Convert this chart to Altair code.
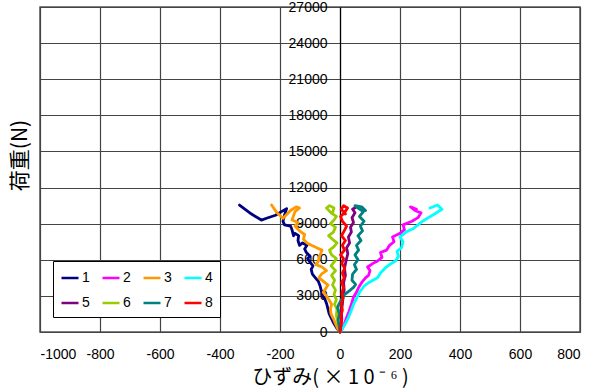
import altair as alt
import pandas as pd

series_names = ["1", "2", "3", "4", "5", "6", "7", "8"]
series_colors = ["#000080", "#ff00ff", "#ff9900", "#00ffff", "#800080", "#99cc00", "#008080", "#ff0000"]

x_ticks = [-1000, -800, -600, -400, -200, 0, 200, 400, 600, 800]
y_ticks = [0, 3000, 6000, 9000, 12000, 15000, 18000, 21000, 24000, 27000]

s1_strain = [0, -10, -20, -28, -36, -40, -44, -50, -58, -62, -66, -72, -82, -92, -96, -90, -100, -108, -100, -112, -118, -110, -125, -135, -140, -138, -150, -155, -160, -165, -185, -190, -185, -178, -195, -215, -245, -262, -295, -335]
s1_load = [0, 300, 700, 1100, 1500, 1900, 2300, 2700, 3000, 3400, 3800, 4200, 4500, 4800, 5200, 5500, 5800, 6100, 6300, 6600, 6900, 7200, 7400, 7200, 7600, 8000, 8200, 8000, 8500, 8800, 8900, 9200, 9700, 10250, 10000, 9700, 9450, 9300, 9800, 10550]

s2_strain = [0, 8, 15, 22, 30, 38, 45, 55, 62, 72, 85, 95, 100, 92, 110, 125, 140, 135, 155, 165, 180, 175, 200, 215, 210, 240, 260, 270, 250, 235, 255]
s2_load = [0, 300, 700, 1200, 1700, 2300, 2900, 3300, 3700, 4100, 4500, 4700, 5100, 5400, 5700, 5900, 6200, 6600, 6800, 7200, 7500, 7900, 8200, 8500, 8900, 9200, 9500, 9900, 10100, 10400, 10200]

s3_strain = [0, -8, -15, -22, -30, -32, -28, -35, -45, -56, -48, -40, -55, -70, -62, -45, -60, -80, -72, -68, -60, -78, -95, -110, -122, -118, -135, -150, -140, -160, -150, -135, -145, -165, -190, -210, -228]
s3_load = [0, 300, 700, 1100, 1500, 1900, 2300, 2600, 3000, 3300, 3600, 3900, 4200, 4500, 4800, 5100, 5400, 5600, 5900, 6300, 6800, 7000, 7200, 7400, 7700, 8100, 8400, 8800, 9100, 9300, 10000, 10300, 10400, 10100, 9450, 9900, 10550]

s4_strain = [0, 8, 18, 28, 38, 45, 55, 65, 80, 95, 110, 125, 135, 150, 165, 185, 195, 190, 205, 210, 200, 220, 245, 260, 275, 295, 315, 340, 325, 300]
s4_load = [0, 300, 700, 1200, 1800, 2300, 2800, 3300, 3800, 4100, 4300, 4500, 4900, 5300, 5600, 5900, 6300, 6700, 7000, 7500, 7900, 8300, 8600, 8900, 9200, 9500, 9800, 10200, 10550, 10300]

s5_strain = [0, 3, 6, 4, 8, 10, 14, 12, 18, 15, 20, 26, 22, 32, 28, 38, 35, 45, 40, 50, 42, 55]
s5_load = [0, 500, 1100, 1700, 2300, 2900, 3500, 4100, 4700, 5300, 5900, 6500, 7000, 7400, 7900, 8300, 8700, 9100, 9500, 9900, 10200, 10400]

s6_strain = [0, -3, -8, -12, -10, -18, -12, -20, -15, -25, -18, -28, -15, -30, -20, -12, -28, -35, -20, -10, -25, -38, -22, -15, -32, -20, -12, -30, -45, -35, -20, -25]
s6_load = [0, 400, 900, 1400, 1900, 2300, 2700, 3100, 3500, 3900, 4300, 4700, 5100, 5500, 5800, 6100, 6400, 6800, 7100, 7400, 7700, 8000, 8300, 8700, 9000, 9300, 9600, 9900, 10300, 10500, 10300, 9900]

s7_strain = [0, -3, -6, -2, -8, -4, 5, 15, 30, 45, 52, 40, 42, 55, 48, 60, 50, 62, 55, 70, 60, 75, 68, 80, 65, 78, 60, 50, 72, 85]
s7_load = [0, 500, 1000, 1500, 2000, 2300, 2700, 3100, 3400, 3700, 3950, 4300, 4800, 5200, 5600, 6000, 6400, 6800, 7200, 7600, 8000, 8400, 8800, 9200, 9600, 10000, 10300, 10500, 10400, 10100]

s8_strain = [0, 2, 5, 3, 8, 4, 10, 6, 12, 5, 14, 8, 16, 6, 12, 2, 15, 8, 18, 5, 14, 22, 8, 2, 15, 25, 12, 4, 18]
s8_load = [0, 400, 900, 1400, 1800, 2300, 2800, 3200, 3700, 4100, 4500, 4900, 5300, 5700, 6100, 6400, 6800, 7200, 7600, 8000, 8400, 8800, 9200, 9600, 9900, 10300, 10500, 10200, 9800]

all_strain = [s1_strain, s2_strain, s3_strain, s4_strain, s5_strain, s6_strain, s7_strain, s8_strain]
all_load = [s1_load, s2_load, s3_load, s4_load, s5_load, s6_load, s7_load, s8_load]

rows = []
for k, name in enumerate(series_names):
    for i, (sx, ly) in enumerate(zip(all_strain[k], all_load[k])):
        rows.append({"series": name, "sorder": k, "idx": i, "strain": sx, "load": ly})
df = pd.DataFrame(rows)

label_font = "Liberation Sans"
title_font = "Noto Sans CJK JP"

chart = alt.Chart(df).mark_line(strokeWidth=2.8, strokeJoin="round", strokeCap="round").encode(
    x=alt.X("strain:Q",
            scale=alt.Scale(domain=[-1000, 800], nice=False, zero=False),
            axis=alt.Axis(values=x_ticks, labelExpr="datum.value + ''", grid=True, ticks=False, domain=False,
                          labelFont=label_font, labelFontSize=14, labelColor="#000",
                          labelPadding=15, title="ひずみ( × 1 0 ⁻ ⁶ )",
                          titleFont=title_font, titleFontSize=20, titleFontWeight="normal",
                          titleColor="#000", titlePadding=6, titleX=290)),
    y=alt.Y("load:Q",
            scale=alt.Scale(domain=[0, 27000], nice=False, zero=False),
            axis=alt.Axis(values=y_ticks, labelExpr="datum.value + ''", grid=True, ticks=False, domain=True,
                          domainColor="#000", domainWidth=1.2, offset=-300,
                          labelFont=label_font, labelFontSize=14, labelColor="#000",
                          labelPadding=13, title="荷重(N)",
                          titleFont=title_font, titleFontSize=21, titleFontWeight="normal",
                          titleColor="#000", titleX=-320, titleY=148, titleAngle=-90,
                          titleAlign="center", titleBaseline="middle")),
    color=alt.Color("series:N",
                    scale=alt.Scale(domain=series_names, range=series_colors),
                    legend=alt.Legend(orient="none", legendX=13, legendY=254, columns=4,
                                      direction="horizontal", title=None,
                                      symbolType="stroke", symbolSize=289, symbolStrokeWidth=2.5,
                                      labelFont=label_font, labelFontSize=14, labelColor="#000",
                                      labelOffset=2, columnPadding=7, rowPadding=8,
                                      padding=7, strokeColor="#000", fillColor="#fff")),
    detail="series:N",
    order=alt.Order("idx:Q"),
).properties(
    width=540, height=325,
    autosize=alt.AutoSizeParams(type="none"),
    padding={"left": 40, "top": 7, "right": 21, "bottom": 60},
).configure_view(
    stroke="#555", strokeWidth=1.5
).configure_axis(
    gridColor="#444", gridWidth=1.2, gridOpacity=1
)

chart.save("out.html", embed_options={"renderer": "svg", "actions": False})
